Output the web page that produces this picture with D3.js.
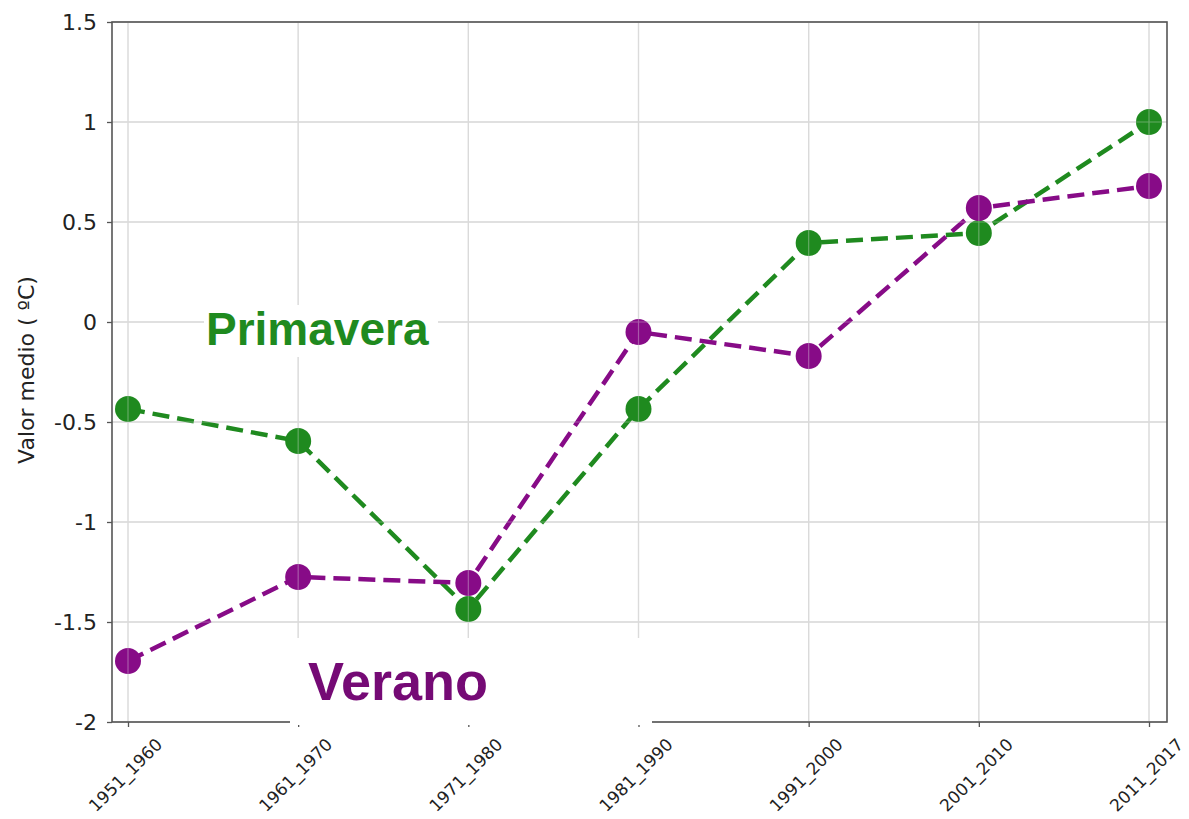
<!DOCTYPE html>
<html>
<head>
<meta charset="utf-8">
<script src="https://cdn.jsdelivr.net/npm/d3@7"></script>
<style>
  html, body { margin: 0; padding: 0; background: #fff; }
  svg { display: block; }
</style>
</head>
<body>
<svg id="chart" width="1189" height="819"></svg>
<script>
// Decades on the x axis
const decades = ["1951_1960", "1961_1970", "1971_1980", "1981_1990", "1991_2000", "2001_2010", "2011_2017"];
// Mean temperature anomaly per decade (ºC)
const primavera = [-0.435, -0.595, -1.435, -0.435, 0.395, 0.445, 1.0];
const verano = [-1.695, -1.275, -1.305, -0.05, -0.17, 0.57, 0.68];
// Y axis ticks
const yTicks = [-2, -1.5, -1, -0.5, 0, 0.5, 1, 1.5];

const svg = d3.select("#chart");
const plotL = 112, plotR = 1167, plotT = 22, plotB = 722;

const x = d3.scalePoint().domain(decades).range([128, 1149]);
const y = d3.scaleLinear().domain([-2, 1.5]).range([plotB, plotT]);

const green = "#1f8a1f";
const purple = "#870b87";

// Grid
const grid = svg.append("g");
grid.selectAll("line.v").data(decades).join("line")
  .attr("x1", d => x(d)).attr("x2", d => x(d))
  .attr("y1", plotT).attr("y2", plotB)
  .attr("stroke", "#d4d4d4").attr("stroke-width", 1.3);
grid.selectAll("line.h").data(yTicks).join("line")
  .attr("x1", plotL).attr("x2", plotR)
  .attr("y1", d => y(d)).attr("y2", d => y(d))
  .attr("stroke", "#d4d4d4").attr("stroke-width", 1.3);

// Series
function drawSeries(values, color) {
  const line = d3.line().x((d, i) => x(decades[i])).y(d => y(d));
  svg.append("path").datum(values)
    .attr("d", line)
    .attr("fill", "none")
    .attr("stroke", color)
    .attr("stroke-width", 4.5)
    .attr("stroke-dasharray", "17,8");
  svg.append("g").selectAll("circle").data(values).join("circle")
    .attr("cx", (d, i) => x(decades[i]))
    .attr("cy", d => y(d))
    .attr("r", 13)
    .attr("fill", color);
}
drawSeries(primavera, green);
drawSeries(verano, purple);

// Faint grid showing through markers
const gridTop = svg.append("g").attr("opacity", 0.35);
gridTop.selectAll("line.v").data(decades).join("line")
  .attr("x1", d => x(d)).attr("x2", d => x(d))
  .attr("y1", plotT).attr("y2", plotB)
  .attr("stroke", "#e8e8e8").attr("stroke-width", 1.2);
gridTop.selectAll("line.h").data(yTicks).join("line")
  .attr("x1", plotL).attr("x2", plotR)
  .attr("y1", d => y(d)).attr("y2", d => y(d))
  .attr("stroke", "#e8e8e8").attr("stroke-width", 1.2);

// Frame
svg.append("rect")
  .attr("x", plotL).attr("y", plotT)
  .attr("width", plotR - plotL).attr("height", plotB - plotT)
  .attr("fill", "none").attr("stroke", "#555").attr("stroke-width", 1.6);

// Y axis
const yAxis = svg.append("g").attr("transform", `translate(${plotL},0)`)
  .call(d3.axisLeft(y).tickValues(yTicks).tickSize(5).tickPadding(10)
    .tickFormat(d => String(d)));
yAxis.select(".domain").remove();
yAxis.selectAll(".tick line").attr("stroke", "#555").attr("stroke-width", 1.3);
yAxis.selectAll(".tick text")
  .attr("font-family", "DejaVu Sans, sans-serif").attr("font-size", 22).attr("fill", "#222");

// X axis
const xAxis = svg.append("g").attr("transform", `translate(0,${plotB})`)
  .call(d3.axisBottom(x).tickSize(5).tickPadding(6));
xAxis.select(".domain").remove();
xAxis.selectAll(".tick line").attr("stroke", "#555").attr("stroke-width", 1.3);
xAxis.selectAll(".tick text")
  .attr("font-family", "DejaVu Sans, sans-serif").attr("font-size", 17).attr("fill", "#222")
  .attr("text-anchor", "middle")
  .attr("y", 0).attr("dy", "0.35em")
  .attr("transform", "translate(-3,53) rotate(-45)");

// Y label
svg.append("text")
  .attr("transform", "translate(34,370) rotate(-90)")
  .attr("text-anchor", "middle")
  .attr("font-family", "DejaVu Sans, sans-serif")
  .attr("font-size", 22)
  .attr("fill", "#222")
  .text("Valor medio ( ºC)");

// Series labels with white backing
svg.append("rect").attr("x", 204).attr("y", 305).attr("width", 234).attr("height", 52).attr("fill", "#fff");
svg.append("text")
  .attr("x", 206).attr("y", 345)
  .attr("font-family", "Liberation Sans, Arial, sans-serif")
  .attr("font-weight", "bold").attr("font-size", 46)
  .attr("fill", green)
  .text("Primavera");

svg.append("rect").attr("x", 290).attr("y", 638).attr("width", 362).attr("height", 87).attr("fill", "#fff");
svg.append("text")
  .attr("x", 308).attr("y", 700)
  .attr("font-family", "Liberation Sans, Arial, sans-serif")
  .attr("font-weight", "bold").attr("font-size", 54)
  .attr("fill", "#750a75")
  .text("Verano");
</script>
</body>
</html>
